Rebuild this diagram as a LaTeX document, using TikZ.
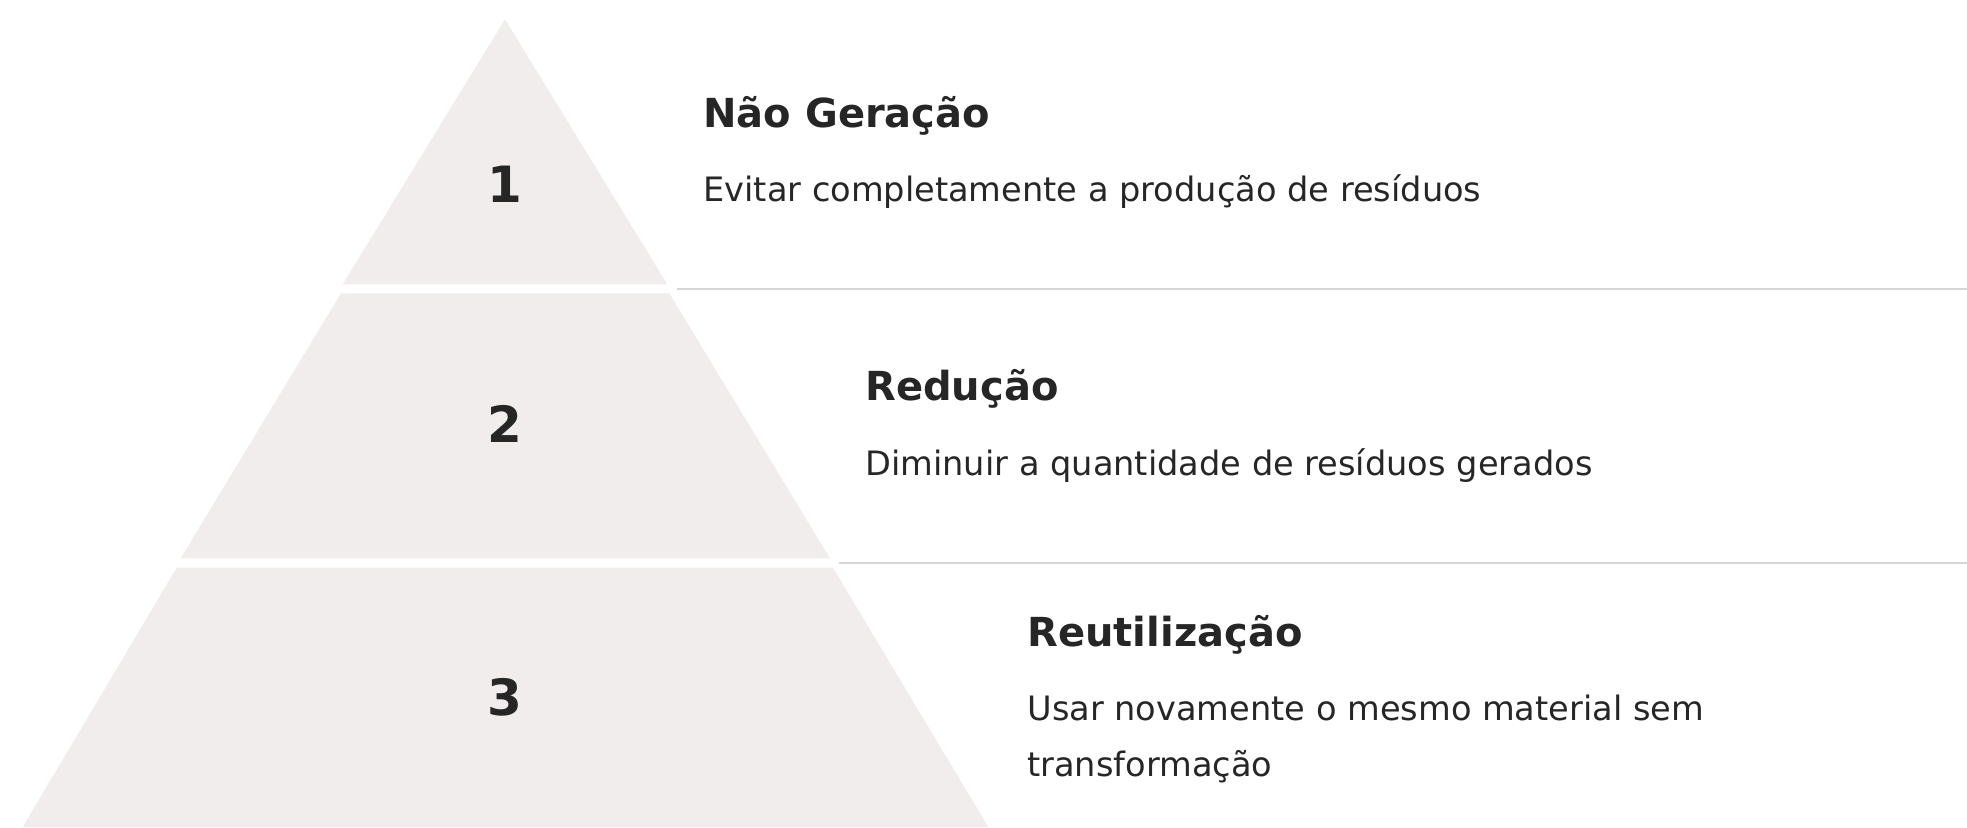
\documentclass[tikz,border=0pt]{standalone}
\usepackage{fontspec}
\setmainfont{DejaVu Sans}
\definecolor{tierfill}{HTML}{F0EDEC}
\definecolor{ink}{HTML}{262626}
\definecolor{sepline}{HTML}{D6D6D6}
\tikzset{
  tier/.style={fill=tierfill, draw=none},
  numlabel/.style={font=\bfseries\fontsize{25pt}{30pt}\selectfont, text=ink, inner sep=0pt, anchor=base},
  titlelabel/.style={font=\bfseries\fontsize{20pt}{24pt}\selectfont, text=ink, inner sep=0pt, anchor=base west},
  desclabel/.style={font=\fontsize{16.8pt}{28pt}\selectfont, text=ink, inner sep=0pt, anchor=base west}
}
\tikzset{sepstyle/.style={draw=sepline, line width=1pt}}
\begin{document}
\begin{tikzpicture}[x=0.5pt, y=-0.5pt]
\useasboundingbox (0,0) rectangle (1967,827);
% tiers
\fill[tier] (505,19.3) -- (667.3,284.3) -- (342.7,284.3) -- cycle;
\fill[tier] (341,293.3) -- (669.3,293.3) -- (830,558.3) -- (180.7,558.3) -- cycle;
\fill[tier] (176.7,567.7) -- (833,567.7) -- (988.3,827) -- (22.7,827) -- cycle;
% separators
\coordinate (s1a) at (677.3,289.3);
\coordinate (s1b) at (1967,289.3);
\coordinate (s2a) at (839.3,563.3);
\coordinate (s2b) at (1967,563.3);
\draw[sepstyle] (s1a) -- (s1b);
\draw[sepstyle] (s2a) -- (s2b);
% numbers
\node[numlabel] (n1) at (505,202) {1};
\node[numlabel] (n2) at (505,442) {2};
\node[numlabel] (n3) at (505,715) {3};
% titles
\node[titlelabel] (t1) at (703,127) {Não Geração};
\node[titlelabel] (t2) at (865,400.5) {Redução};
\node[titlelabel] (t3) at (1027,646) {Reutilização};
% descriptions
\node[desclabel] (d1) at (703,201.7) {Evitar completamente a produção de resíduos};
\node[desclabel] (d2) at (865,475.2) {Diminuir a quantidade de resíduos gerados};
\node[desclabel] (d3) at (1027,720.7) {\begin{tabular}[t]{@{}l@{}}Usar novamente o mesmo material sem\\transformação\end{tabular}};
\end{tikzpicture}
\end{document}
